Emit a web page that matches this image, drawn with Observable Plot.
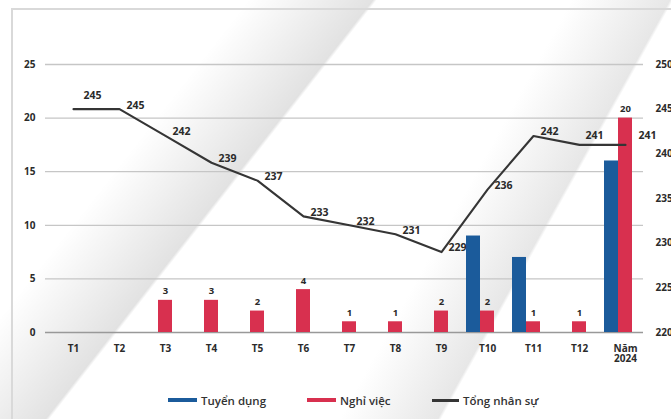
<!DOCTYPE html>
<html><head><meta charset="utf-8">
<script src="https://cdn.jsdelivr.net/npm/d3@7"></script>
<script src="https://cdn.jsdelivr.net/npm/@observablehq/plot@0.6"></script>
<style>
html,body{margin:0;padding:0;background:#fff;}
body{width:671px;height:419px;overflow:hidden;position:relative;font-family:"Open Sans",sans-serif;}
#bg{position:absolute;left:0;top:0;width:671px;height:419px;
 background:
  linear-gradient(128deg, rgba(0,0,0,0) 0px, rgba(0,0,0,0) 195px, rgba(0,0,0,0.115) 294px, rgba(0,0,0,0) 297px, rgba(0,0,0,0) 100%),
  linear-gradient(119deg,#fff 0px,#fff 500px,#e7e7e7 586px,#fff 589px,#fff 100%);}
#frame{position:absolute;left:11px;top:8px;width:700px;height:450px;border-left:2px solid #d9d9d9;border-top:2px solid #d9d9d9;}
#chart{position:absolute;left:0;top:0;}
#legend{position:absolute;top:392px;left:0;width:671px;height:16px;}
.item{position:absolute;top:0;display:flex;align-items:center;font-size:11.5px;font-weight:600;color:#333;height:16px;white-space:nowrap;}
.sw{display:inline-block;width:29px;height:4px;margin-right:4px;}
</style></head>
<body>
<div id="bg"></div>
<div id="frame"></div>
<div id="chart"></div>
<div id="legend"></div>
<script>
const categories = ["T1","T2","T3","T4","T5","T6","T7","T8","T9","T10","T11","T12","Năm 2024"];
const tuyenDung  = [0,0,0,0,0,0,0,0,0,9,7,0,16];
const nghiViec   = [0,0,3,3,2,4,1,1,2,2,1,1,20];
const tongNhanSu = [245,245,242,239,237,233,232,231,229,236,242,241,241];
const leftTicks  = [0,5,10,15,20,25];
const rightTicks = [220,225,230,235,240,245,250];
const seriesNames = ["Tuyển dụng","Nghỉ việc","Tổng nhân sự"];
const seriesColors = ["#1b5b9b","#d8304f","#353535"];

const rows = categories.map((c,i)=>({cat:c, td:tuyenDung[i], nv:nghiViec[i], tong:tongNhanSu[i]}));
const R0 = rightTicks[0], R1 = rightTicks[rightTicks.length-1], L1 = leftTicks[leftTicks.length-1];
const toLeft = v => (v - R0) / (R1 - R0) * L1;
const fromLeft = y => Math.round(R0 + y / L1 * (R1 - R0));

const last = categories[categories.length-1];
const lineY = d => toLeft(d.tong);
const txt = {fontSize:10.5, fontWeight:700, fill:"#2a2a2a"};

const chart = Plot.plot({
  width: 671, height: 380,
  marginLeft: 49, marginRight: 23, marginTop: 64, marginBottom: 48,
  x: {type:"band", domain: categories, padding: 0},
  y: {domain: [0, L1]},
  style: {background:"transparent", fontFamily:"Open Sans", fontSize:"10px", color:"#2b2b2b"},
  marks: [
    Plot.ruleY(leftTicks.filter(t=>t>0), {stroke:"#c6c6c6", strokeWidth:1.3, insetLeft:-4, insetRight:5}),
    Plot.ruleY([0], {stroke:"#999", strokeWidth:1.3, insetLeft:-4, insetRight:5}),
    Plot.axisY({anchor:"left", ticks:leftTicks, tickSize:0, tickPadding:14, label:null, fontSize:10, fontWeight:700}),
    Plot.axisY({anchor:"right", ticks:rightTicks.map(toLeft), tickFormat: fromLeft, tickSize:0, tickPadding:7, label:null, fontSize:10, fontWeight:700}),
    Plot.axisX({tickSize:0, tickPadding:12, label:null, tickFormat: d => d.replace(" ", "\n"), fontSize:10, fontWeight:700}),
    Plot.barY(rows.filter(d=>d.td>0), {x:"cat", y:"td", fill:seriesColors[0], insetLeft:16, insetRight:16, dx:-14}),
    Plot.barY(rows.filter(d=>d.nv>0), {x:"cat", y:"nv", fill:seriesColors[1], insetLeft:16, insetRight:16}),
    Plot.text(rows.filter(d=>d.nv>0), {x:"cat", y:"nv", text:d=>String(d.nv), dy:-9, fontSize:9.5, fontWeight:700, fill:"#2a2a2a"}),
    Plot.line(rows, {x:"cat", y:lineY, stroke:seriesColors[2], strokeWidth:2.1, strokeLinejoin:"round"}),
    Plot.text(rows.filter((d,i)=>i===0), {x:"cat", y:lineY, text:d=>String(d.tong), dx:19, dy:-14, ...txt}),
    Plot.text(rows.filter((d,i)=>i>0 && i<11), {x:"cat", y:lineY, text:d=>String(d.tong), dx:16, dy:-4, ...txt}),
    Plot.text(rows.filter((d,i)=>i===11), {x:"cat", y:lineY, text:d=>String(d.tong), dx:15, dy:-9, ...txt}),
    Plot.text(rows.filter(d=>d.cat===last), {x:"cat", y:lineY, text:d=>String(d.tong), dx:22, dy:-9, ...txt})
  ]
});
document.getElementById("chart").appendChild(chart);

const legend = document.getElementById("legend");
const lx = [168, 307, 432];
seriesNames.forEach((n,i)=>{
  const it = document.createElement("div");
  it.className = "item";
  it.style.left = lx[i] + "px";
  const sw = document.createElement("span");
  sw.className = "sw";
  sw.style.background = seriesColors[i];
  if (i===2) { sw.style.height = "3px"; sw.style.width = "27px"; }
  it.appendChild(sw);
  const t = document.createElement("span");
  t.textContent = n;
  it.appendChild(t);
  legend.appendChild(it);
});
</script>
</body></html>
